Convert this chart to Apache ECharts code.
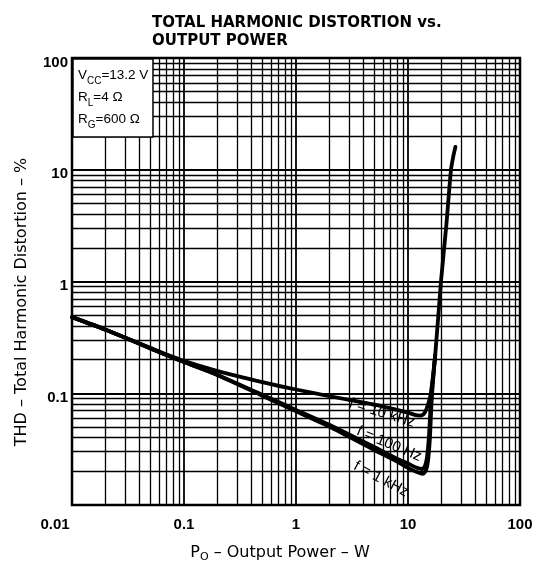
<!DOCTYPE html>
<html>
<head>
<meta charset="utf-8">
<script src="https://cdn.jsdelivr.net/npm/echarts@6/dist/echarts.min.js"></script>
<style>html,body{margin:0;padding:0;background:#fff}#c{width:553px;height:574px}</style>
</head>
<body>
<div id="c"></div>
<script>
// ---- data ----
const axisTicks = [0.01, 0.1, 1, 10, 100];
const minorMult = [2, 3, 4, 5, 6, 7, 8, 9];
const decadeStarts = [0.01, 0.1, 1, 10];
// Output power (W), THD (%)
const f10k = [[0.01,0.48],[0.02,0.37],[0.05,0.255],[0.1,0.195],[0.2,0.158],[0.5,0.126],[1,0.108],[2,0.094],[5,0.079],[8,0.071],[10,0.067],[11.5,0.064],[12.8,0.063],[13.8,0.065],[14.6,0.072],[15.3,0.083],[16,0.1],[17.5,0.22],[19.7,1],[22,3.2],[24.2,10],[25.5,13.5],[26.5,16]];
const f100 = [[0.01,0.48],[0.02,0.37],[0.05,0.252],[0.1,0.19],[0.2,0.146],[0.5,0.097],[1,0.071],[2,0.052],[5,0.033],[8,0.026],[10,0.0235],[12,0.0215],[13.4,0.021],[14.2,0.0225],[14.8,0.027],[15.4,0.042],[16.1,0.09],[17.5,0.22]];
const f1k  = [[0.01,0.48],[0.02,0.37],[0.05,0.252],[0.1,0.19],[0.2,0.145],[0.5,0.095],[1,0.069],[2,0.05],[5,0.031],[8,0.0245],[10,0.0215],[12,0.0197],[13.6,0.019],[14.5,0.0205],[15.1,0.025],[15.7,0.04],[16.3,0.09],[17.5,0.22]];

const minorVals = [];
decadeStarts.forEach(d => minorMult.forEach(m => minorVals.push(+(d * m).toPrecision(3))));

const FONT = 'Liberation Sans';
const WIDE = 'DejaVu Sans';
const chart = echarts.init(document.getElementById('c'), null, {renderer: 'canvas'});
const fmt = v => +(+v).toPrecision(3);
const lineStyle = {color: '#000', width: 1.3, type: 'solid'};
const tickFont = {fontFamily: FONT, fontSize: 15, fontWeight: 'bold', color: '#000'};
const curve = (name, data) => ({name, type: 'line', data, z: 5, showSymbol: false, smooth: 0.25,
  lineStyle: {color: '#000', width: 3.8, cap: 'round', join: 'round'}});

chart.setOption({
  animation: false,
  backgroundColor: '#fff',
  title: {
    text: 'TOTAL HARMONIC DISTORTION vs.\nOUTPUT POWER',
    left: 147, top: 9,
    textStyle: {fontFamily: WIDE, fontSize: 15, fontWeight: 'bold', color: '#000', lineHeight: 18}
  },
  grid: {left: 72, right: 33, top: 58, bottom: 69, show: true, borderColor: '#000', borderWidth: 2.5, containLabel: false},
  xAxis: {
    type: 'log', logBase: 10, min: 0.01, max: 100,
    axisLine: {show: false}, axisTick: {show: false},
    splitLine: {show: true, lineStyle: {color: '#000', width: 1.8}},
    axisLabel: Object.assign({
      showMinLabel: true, showMaxLabel: true, margin: 12,
      formatter: v => { const n = fmt(v); return n === 0.01 ? '{l|0.01}' : String(n); },
      rich: {l: Object.assign({padding: [0, 34, 0, 0]}, tickFont)}
    }, tickFont)
  },
  yAxis: {
    type: 'log', logBase: 10, min: 0.01, max: 100,
    axisLine: {show: false}, axisTick: {show: false},
    splitLine: {show: true, lineStyle: {color: '#000', width: 1.8}},
    axisLabel: Object.assign({
      showMinLabel: true, showMaxLabel: true, margin: 4,
      formatter: v => { const n = fmt(v); return n === 0.01 ? '' : '{a|' + n + '}'; },
      rich: {a: Object.assign({padding: [9, 0, 0, 0]}, tickFont)}
    }, tickFont)
  },
  series: [
    {
      type: 'line', data: [], z: 1, silent: true,
      markLine: {
        silent: true, symbol: ['none', 'none'], label: {show: false}, animation: false,
        lineStyle: lineStyle,
        data: minorVals.map(v => ({xAxis: v})).concat(minorVals.map(v => ({yAxis: v})))
      }
    },
    curve('f=10 kHz', f10k),
    curve('f=100 Hz', f100),
    curve('f=1 kHz', f1k)
  ],
  graphic: [
    {type: 'rect', z: 20, shape: {x: 73, y: 59, width: 80, height: 78}, style: {fill: '#fff', stroke: '#000', lineWidth: 1.5}},
    {type: 'text', z: 21, left: 78, top: 64, style: {
      text: 'V{s|CC}=13.2 V\nR{s|L}=4 Ω\nR{s|G}=600 Ω',
      font: '13.5px ' + FONT, fill: '#000', lineHeight: 22,
      rich: {s: {fontFamily: FONT, fontSize: 10, fill: '#000', verticalAlign: 'bottom', padding: [6, 0, 0, 0]}}
    }},
    {type: 'text', z: 21, x: 382, y: 413, rotation: -17 * Math.PI / 180, style: {
      text: 'f = 10 kHz', font: '15px ' + FONT, fill: '#000', align: 'center', verticalAlign: 'middle'}},
    {type: 'text', z: 21, x: 389, y: 444, rotation: -23 * Math.PI / 180, style: {
      text: 'f = 100 Hz', font: '15px ' + FONT, fill: '#000', align: 'center', verticalAlign: 'middle'}},
    {type: 'text', z: 21, x: 381, y: 479, rotation: -28 * Math.PI / 180, style: {
      text: 'f = 1 kHz', font: '15px ' + FONT, fill: '#000', align: 'center', verticalAlign: 'middle'}},
    {type: 'text', z: 21, x: 280, y: 553, style: {
      text: 'P{s|O} – Output Power – W', font: '16px ' + WIDE, fill: '#000', align: 'center', verticalAlign: 'middle',
      rich: {s: {fontFamily: WIDE, fontSize: 11, fill: '#000', padding: [8, 0, 0, 0]}}
    }},
    {type: 'text', z: 21, x: 22, y: 302, rotation: Math.PI / 2, style: {
      text: 'THD – Total Harmonic Distortion – %', font: '16px ' + WIDE, fill: '#000', align: 'center', verticalAlign: 'middle'}}
  ]
});
</script>
</body>
</html>
